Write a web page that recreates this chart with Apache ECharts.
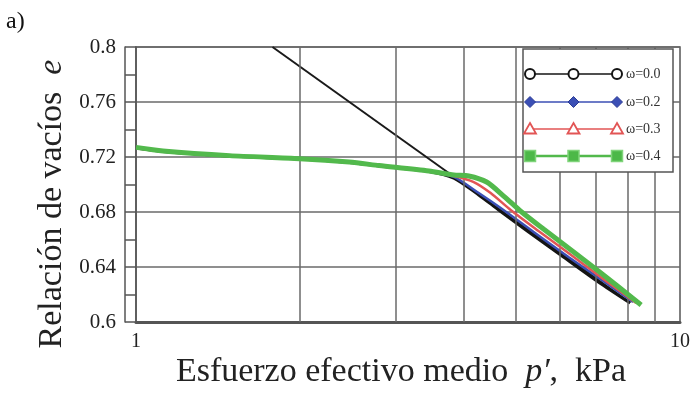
<!DOCTYPE html>
<html>
<head>
<meta charset="utf-8">
<script src="https://cdn.jsdelivr.net/npm/echarts@6/dist/echarts.min.js"></script>
<style>
html,body{margin:0;padding:0;background:#fff;}
#chart{width:693px;height:398px;}
</style>
</head>
<body>
<div id="chart"></div>
<script>
// Mean effective stress p' (kPa) and void ratio e for each test
const pW00 = [1.0, 1.121, 1.486, 2.0, 2.466, 2.798, 3.455, 3.839, 4.266, 4.642, 5.269, 6.106, 7.078, 8.097];
const eW00 = [0.7265, 0.7240, 0.7207, 0.7185, 0.7160, 0.7135, 0.7095, 0.7047, 0.6924, 0.6815, 0.6655, 0.6473, 0.6291, 0.6138];

const pW02 = [1.0, 1.121, 1.486, 2.0, 2.466, 2.798, 3.455, 3.839, 4.266, 4.681, 5.381, 6.236, 7.226, 8.200];
const eW02 = [0.7265, 0.7240, 0.7207, 0.7185, 0.7160, 0.7135, 0.7095, 0.7055, 0.6938, 0.6829, 0.6655, 0.6473, 0.6298, 0.6145];

const pW03 = [1.0, 1.121, 1.486, 2.0, 2.466, 2.798, 3.455, 3.839, 4.177, 4.487, 4.883, 5.495, 6.236, 7.226, 8.305];
const eW03 = [0.7265, 0.7240, 0.7207, 0.7185, 0.7160, 0.7135, 0.7095, 0.7062, 0.7018, 0.6938, 0.6815, 0.6662, 0.6502, 0.6313, 0.6138];

const pW04 = [1.0, 1.121, 1.486, 2.0, 2.466, 2.798, 3.455, 3.839, 4.090, 4.412, 4.741, 5.116, 5.612, 6.236, 7.078, 8.483];
const eW04 = [0.7270, 0.7244, 0.7210, 0.7188, 0.7163, 0.7138, 0.7098, 0.7069, 0.7062, 0.7018, 0.6916, 0.6800, 0.6676, 0.6538, 0.6371, 0.6124];

// Normal compression line (straight in log p')
const pNCL = [1.782, 8.1];
const eNCL = [0.800, 0.614];

// Axis values
const xGridValues = [2, 3, 4, 5, 6, 7, 8, 9];
const yMin = 0.6, yMax = 0.8, yStep = 0.04;

const seriesNames = ['ω=0.0', 'ω=0.2', 'ω=0.3', 'ω=0.4'];
const seriesColors = ['#141414', '#3b4fb5', '#e25555', '#52b94c'];
const seriesWidths = [3, 2.5, 2.5, 5];

const SERIF = "'Liberation Serif', 'Times New Roman', serif";
const GRID_COLOR = '#6a6a6a';

function pairs(px, py) { return px.map((v, i) => [v, py[i]]); }
const curves = [pairs(pW00, eW00), pairs(pW02, eW02), pairs(pW03, eW03), pairs(pW04, eW04)];

const chart = echarts.init(document.getElementById('chart'));

const series = [
  {
    // vertical grid lines of the log axis (2..9)
    type: 'line', data: [], z: 1, silent: true,
    markLine: {
      silent: true, symbol: 'none', label: { show: false },
      lineStyle: { color: GRID_COLOR, width: 1.5, type: 'solid' },
      data: xGridValues.map(v => ({ xAxis: v }))
    }
  },
  {
    type: 'line', data: pairs(pNCL, eNCL), z: 2, showSymbol: false, silent: true,
    lineStyle: { color: '#1a1a1a', width: 2 }
  }
];
curves.forEach((d, i) => {
  series.push({
    name: seriesNames[i], type: 'line', data: d, z: 3 + i,
    showSymbol: false, smooth: 0.25,
    lineStyle: { color: seriesColors[i], width: seriesWidths[i] }
  });
});

// legend drawn as a framed box
const legendRows = [74, 102, 129, 156];
const legendX = [530, 573.5, 617];
const legendEls = [{
  type: 'rect', shape: { x: 523, y: 49, width: 150, height: 123 },
  style: { fill: '#fff', stroke: '#555', lineWidth: 1.5 }, z: 100
}];
function marker(kind, x, y) {
  if (kind === 0) return { type: 'circle', shape: { cx: x, cy: y, r: 5 }, style: { fill: '#fff', stroke: '#141414', lineWidth: 2 }, z: 102 };
  if (kind === 1) return { type: 'polygon', shape: { points: [[x, y - 5.5], [x + 5.5, y], [x, y + 5.5], [x - 5.5, y]] }, style: { fill: '#3b4fb5', stroke: '#2c3c95', lineWidth: 1 }, z: 102 };
  if (kind === 2) return { type: 'polygon', shape: { points: [[x, y - 6], [x + 6, y + 4.5], [x - 6, y + 4.5]] }, style: { fill: '#fff', stroke: '#e25555', lineWidth: 1.8 }, z: 102 };
  return { type: 'rect', shape: { x: x - 5.5, y: y - 5.5, width: 11, height: 11 }, style: { fill: '#4cb848', stroke: '#7fd47a', lineWidth: 1.5 }, z: 102 };
}
legendRows.forEach((y, i) => {
  legendEls.push({
    type: 'line', shape: { x1: legendX[0], y1: y, x2: legendX[2], y2: y },
    style: { stroke: seriesColors[i], lineWidth: i === 3 ? 2.5 : 1.6 }, z: 101
  });
  legendX.forEach(x => legendEls.push(marker(i, x, y)));
  legendEls.push({
    type: 'text', x: 626, y: y, z: 103,
    style: { text: seriesNames[i], fontFamily: SERIF, fontSize: 14, fill: '#333', align: 'left', verticalAlign: 'middle' }
  });
});

const option = {
  animation: false,
  backgroundColor: '#fff',
  grid: {
    left: 136, right: 11, top: 47, bottom: 76,
    show: true, borderColor: '#555', borderWidth: 1.5, backgroundColor: 'transparent'
  },
  xAxis: {
    type: 'log', logBase: 10, min: 1, max: 10,
    axisLine: { show: true, onZero: false, lineStyle: { color: '#555', width: 3 } },
    axisTick: { show: false },
    splitLine: { show: false },
    axisLabel: { fontFamily: SERIF, fontSize: 20, color: '#222', margin: 10 }
  },
  yAxis: [
    {
      type: 'value', min: yMin, max: yMax, interval: yStep,
      axisLine: { show: true, lineStyle: { color: '#555', width: 1.5 } },
      axisTick: { show: true, length: 11, lineStyle: { color: '#555', width: 1.5 } },
      minorTick: { show: true, splitNumber: 2, length: 11, lineStyle: { color: '#555', width: 1.5 } },
      splitLine: { show: true, lineStyle: { color: GRID_COLOR, width: 1.5 } },
      axisLabel: {
        fontFamily: SERIF, fontSize: 21, color: '#222', margin: 20,
        formatter: v => String(+v.toFixed(2))
      }
    },
    {
      type: 'value', min: yMin, max: yMax, position: 'left', offset: 11,
      axisLine: { show: true, lineStyle: { color: '#555', width: 1.5 } },
      axisTick: { show: false }, axisLabel: { show: false }, splitLine: { show: false }
    }
  ],
  series: series,
  graphic: [
    {
      type: 'text', x: 6, y: 22,
      style: { text: 'a)', fontFamily: SERIF, fontSize: 24, fill: '#111', verticalAlign: 'middle' }
    },
    {
      type: 'text', x: 52, y: 204, rotation: Math.PI / 2,
      style: {
        text: '{n|Relación de vacíos  }{i|e}', align: 'center', verticalAlign: 'middle',
        rich: {
          n: { fontFamily: SERIF, fontSize: 34, fill: '#222' },
          i: { fontFamily: SERIF, fontSize: 34, fill: '#222', fontStyle: 'italic' }
        }
      }
    },
    {
      type: 'text', x: 401, y: 372,
      style: {
        text: '{n|Esfuerzo efectivo medio  }{i|p′}{n|,  kPa}', align: 'center', verticalAlign: 'middle',
        rich: {
          n: { fontFamily: SERIF, fontSize: 34, fill: '#222' },
          i: { fontFamily: SERIF, fontSize: 34, fill: '#222', fontStyle: 'italic' }
        }
      }
    }
  ].concat(legendEls)
};

chart.setOption(option);
</script>
</body>
</html>
